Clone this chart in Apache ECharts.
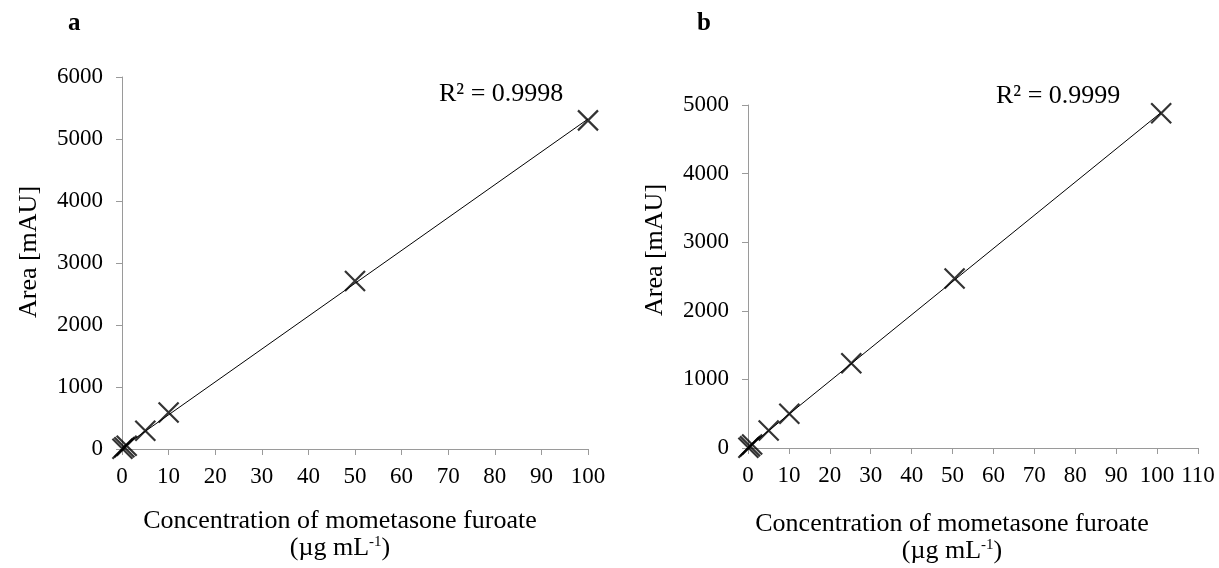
<!DOCTYPE html>
<html>
<head>
<meta charset="utf-8">
<script src="https://cdn.jsdelivr.net/npm/echarts@6/dist/echarts.min.js"></script>
<style>html,body{margin:0;padding:0;background:#fff}#c{width:1219px;height:568px}</style>
</head>
<body>
<div id="c"></div>
<script>
// Panel a data
const concA = [0.1, 0.5, 1, 5, 10, 50, 100];
const areaA = [5, 27, 53, 295, 590, 2710, 5300];
const r2A = 'R² = 0.9998';
// Panel b data
const concB = [0.101, 0.505, 1.01, 5.05, 10.1, 25.25, 50.5, 101];
const areaB = [5, 25, 50, 255, 500, 1235, 2470, 4880];
const r2B = 'R² = 0.9999';
// Axis ranges
const xMaxA = 100, yMaxA = 6000;
const xMaxB = 110, yMaxB = 5000;
const xTitle = 'Concentration of mometasone furoate';
const yTitle = 'Area [mAU]';

function fit(xs, ys) {
  const n = xs.length;
  const mx = xs.reduce((a, b) => a + b, 0) / n;
  const my = ys.reduce((a, b) => a + b, 0) / n;
  let sxy = 0, sxx = 0;
  for (let i = 0; i < n; i++) { sxy += (xs[i] - mx) * (ys[i] - my); sxx += (xs[i] - mx) ** 2; }
  const m = sxy / sxx, b = my - m * mx;
  const x0 = Math.min(...xs), x1 = Math.max(...xs);
  return [[x0, m * x0 + b], [x1, m * x1 + b]];
}

const FONT = '"Liberation Serif", "Times New Roman", serif';
const axisGray = '#9a9a9a';
const crossPath = 'path://M0,0L10,10M10,0L0,10';

function xAxis(gi, max) {
  return {
    type: 'value', gridIndex: gi, min: 0, max: max, interval: 10,
    axisLine: { show: true, lineStyle: { color: axisGray, width: 1 } },
    axisTick: { show: true, length: 6, lineStyle: { color: axisGray } },
    splitLine: { show: false },
    axisLabel: { color: '#000', fontFamily: FONT, fontSize: 23, margin: 16, formatter: v => String(v) }
  };
}
function yAxis(gi, max) {
  return {
    type: 'value', gridIndex: gi, min: 0, max: max, interval: 1000,
    axisLine: { show: true, lineStyle: { color: axisGray, width: 1 } },
    axisTick: { show: true, length: 6, lineStyle: { color: axisGray } },
    splitLine: { show: false },
    axisLabel: { color: '#000', fontFamily: FONT, fontSize: 23, margin: 19, formatter: v => String(v) }
  };
}
function scatter(gi, xs, ys) {
  return {
    type: 'scatter', xAxisIndex: gi, yAxisIndex: gi,
    data: xs.map((x, i) => [x, ys[i]]),
    symbol: crossPath, symbolSize: 20,
    itemStyle: { color: 'rgba(0,0,0,0)', borderColor: '#000', borderWidth: 2.2 },
    z: 3, silent: true
  };
}
function trend(gi, xs, ys) {
  return {
    type: 'line', xAxisIndex: gi, yAxisIndex: gi,
    data: fit(xs, ys), showSymbol: false, symbol: 'none',
    lineStyle: { color: '#000', width: 1 }, z: 2, silent: true
  };
}
const rich = { sup: { fontFamily: FONT, fontSize: 15, verticalAlign: 'top', lineHeight: 27, color: '#000' }, n: { fontFamily: FONT, fontSize: 26, lineHeight: 27, color: '#000' } };
function yTitleText(x, y) {
  return { type: 'text', x: x, y: y, rotation: Math.PI / 2,
    style: { text: yTitle, fontFamily: FONT, fontSize: 26, fill: '#000', align: 'center', verticalAlign: 'middle' } };
}

const chart = echarts.init(document.getElementById('c'), null, { renderer: 'canvas' });
chart.setOption({
  animation: false,
  backgroundColor: '#fff',
  grid: [
    { left: 122, top: 77, width: 466, height: 372 },
    { left: 748, top: 105, width: 450, height: 343 }
  ],
  xAxis: [xAxis(0, xMaxA), xAxis(1, xMaxB)],
  yAxis: [yAxis(0, yMaxA), yAxis(1, yMaxB)],
  series: [trend(0, concA, areaA), scatter(0, concA, areaA), trend(1, concB, areaB), scatter(1, concB, areaB)],
  graphic: [
    { type: 'text', left: 68, top: 11, style: { text: 'a', fontFamily: FONT, fontSize: 25, fontWeight: 'bold', fill: '#000' } },
    { type: 'text', left: 697, top: 11, style: { text: 'b', fontFamily: FONT, fontSize: 25, fontWeight: 'bold', fill: '#000' } },
    { type: 'text', left: 439, top: 81, style: { text: r2A, fontFamily: FONT, fontSize: 26, fill: '#000' } },
    { type: 'text', left: 996, top: 83, style: { text: r2B, fontFamily: FONT, fontSize: 26, fill: '#000' } },
    yTitleText(29, 252),
    yTitleText(655, 250),
    { type: 'text', x: 340, y: 508, style: { text: '{n|' + xTitle + '}\n{n|(µg mL}{sup|-1}{n|)}', rich: rich, align: 'center', fill: '#000' } },
    { type: 'text', x: 952, y: 511, style: { text: '{n|' + xTitle + '}\n{n|(µg mL}{sup|-1}{n|)}', rich: rich, align: 'center', fill: '#000' } }
  ]
});
</script>
</body>
</html>
